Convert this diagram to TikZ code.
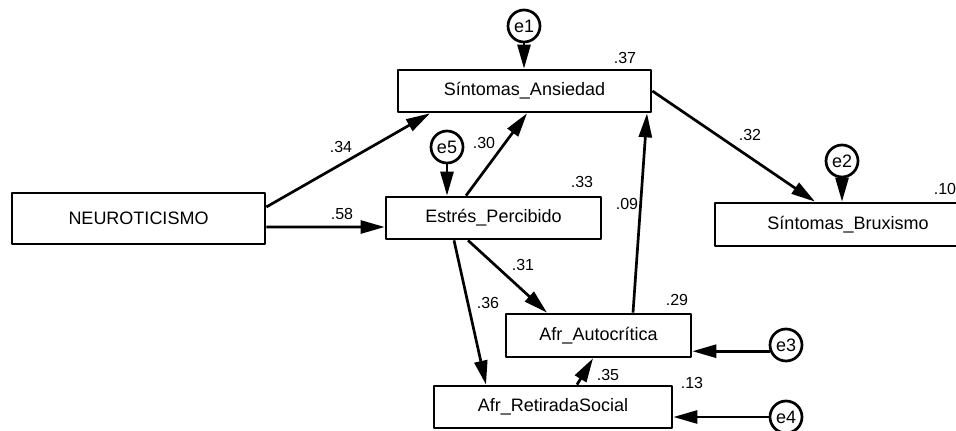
\documentclass[tikz,border=0pt]{standalone}
\usepackage{fontspec}
\setmainfont{Liberation Sans}
\usetikzlibrary{arrows.meta}

\begin{document}
\begin{tikzpicture}[x=0.5pt,y=-0.5pt,>={Triangle[length=12pt,width=6.5pt]},
	font=\fontsize{9}{11}\selectfont, line join=round,
	var/.style={draw,line width=1.35pt,minimum height=21pt,inner sep=0pt},
	err/.style={draw,circle,line width=1.35pt,minimum size=16pt,inner sep=0pt},
	coef/.style={font=\fontsize{8}{9}\selectfont,inner sep=0pt},
	eff/.style={->,line width=1.35pt}]
	\useasboundingbox (0,0) rectangle (956,431);
	%\draw[gray!30] (0,0) grid[step=50] (956,431);
	% observed variables
	\node[var,minimum width=126.5pt,minimum height=25.5pt] (neuro) at (138.5,218.5) {NEUROTICISMO};
	\node[var,minimum width=126.5pt] (ansiedad) at (524.5,91) {Síntomas\_Ansiedad};
	\node[var,minimum width=107.5pt] (estres) at (493.5,218) {Estrés\_Percibido};
	\node[var,minimum width=133pt,minimum height=21.5pt] (bruxismo) at (848,224.5) {Síntomas\_Bruxismo};
	\node[var,minimum width=92.5pt,minimum height=21.5pt] (autocritica) at (598.5,335.5) {Afr\_Autocrítica};
	\node[var,minimum width=119pt] (retirada) at (553,407) {Afr\_RetiradaSocial};
	% error terms
	\node[err] (e1) at (524,26) {e1};
	\node[err] (e5) at (447,147) {e5};
	\node[err] (e2) at (842,161) {e2};
	\node[err] (e3) at (786,345) {e3};
	\node[err] (e4) at (786,417) {e4};
	% paths
	\draw[eff] ([yshift=5.75pt]neuro.east) -- ([xshift=-47.25pt]ansiedad.south);
	\draw[eff] ([yshift=-4.3pt]neuro.east) -- ([yshift=-4.5pt]estres.west);
	\draw[eff] ([xshift=-13.75pt]estres.north) -- ([xshift=1.25pt]ansiedad.south);
	\draw[eff] ([xshift=17.25pt]autocritica.north) -- ([xshift=61.25pt]ansiedad.south);
	\draw[eff] (ansiedad.east) -- ([xshift=-16.5pt]bruxismo.north);
	\draw[eff] ([xshift=-12.75pt]estres.south) -- ([xshift=-25.75pt]autocritica.north);
	\draw[eff] ([xshift=-19.75pt]estres.south) -- ([xshift=-33.5pt]retirada.north);
	\draw[eff] ([xshift=12pt]retirada.north) -- ([xshift=-2.75pt]autocritica.south);
	\draw[eff] (e1) -- (e1 |- ansiedad.north);
	\draw[eff] (e5) -- (e5 |- estres.north);
	\draw[eff] (e2) -- (e2 |- bruxismo.north);
	\draw[eff] (e3.201) -- (e3.201 -| autocritica.east);
	\draw[eff] (e4.west) -- (e4.west -| retirada.east);
	% coefficients
	\node[coef] (c34) at (341,147) {.34};
	\node[coef] (c58) at (342,214) {.58};
	\node[coef] (c30) at (484,143) {.30};
	\node[coef] (c37) at (625,58) {.37};
	\node[coef] (c33) at (582,182) {.33};
	\node[coef] (c09) at (627,204) {.09};
	\node[coef] (c32) at (750,135) {.32};
	\node[coef] (c10) at (945,189) {.10};
	\node[coef] (c31) at (523,265) {.31};
	\node[coef] (c36) at (488,303) {.36};
	\node[coef] (c29) at (677,300) {.29};
	\node[coef] (c35) at (608,375) {.35};
	\node[coef] (c13) at (692,383) {.13};
\end{tikzpicture}
\end{document}
